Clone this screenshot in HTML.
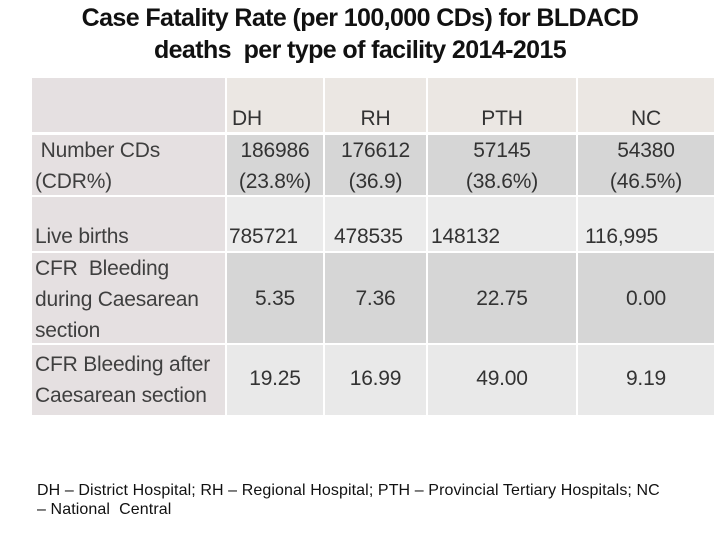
<!DOCTYPE html>
<html><head><meta charset="utf-8"><style>
body{margin:0;width:720px;height:540px;background:#fff;position:relative;overflow:hidden;font-family:"Liberation Sans",sans-serif;}
.t{position:absolute;left:0;width:720px;text-align:center;font-weight:bold;font-size:25px;color:#111;letter-spacing:-0.6px;line-height:30px;}
.c{position:absolute;box-sizing:border-box;font-size:21px;color:#333;letter-spacing:-0.2px;line-height:31px;white-space:nowrap;}
.l{color:#3f3f3f;padding-left:3px;}
.ctr{text-align:center;}
.fn{position:absolute;left:37px;top:481px;width:650px;font-size:16px;line-height:19px;color:#111;letter-spacing:0.1px;}
</style></head><body>
<div class="t" style="top:3px">Case Fatality Rate (per 100,000 CDs) for BLDACD</div>
<div class="t" style="top:35px">deaths&nbsp; per type of facility 2014-2015</div>
<div>
<div class="c" style="left:32px;top:78px;width:193px;height:54px;background:#e5e0e1"></div>
<div class="c" style="left:227px;top:78px;width:96px;height:54px;background:#ebe7e3;padding:25px 0 0 5px">DH</div>
<div class="c ctr" style="left:325px;top:78px;width:101px;height:54px;background:#ebe7e3;padding-top:25px">RH</div>
<div class="c ctr" style="left:428px;top:78px;width:148px;height:54px;background:#ebe7e3;padding-top:25px">PTH</div>
<div class="c ctr" style="left:578px;top:78px;width:136px;height:54px;background:#ebe7e3;padding-top:25px">NC</div>
<div class="c l" style="left:32px;top:135px;width:193px;height:60px;background:#e5e0e1">&nbsp;Number CDs<br>(CDR%)</div>
<div class="c ctr" style="left:227px;top:135px;width:96px;height:60px;background:#d6d6d6">186986<br>(23.8%)</div>
<div class="c ctr" style="left:325px;top:135px;width:101px;height:60px;background:#d6d6d6">176612<br>(36.9)</div>
<div class="c ctr" style="left:428px;top:135px;width:148px;height:60px;background:#d6d6d6">57145<br>(38.6%)</div>
<div class="c ctr" style="left:578px;top:135px;width:136px;height:60px;background:#d6d6d6">54380<br>(46.5%)</div>
<div class="c l" style="left:32px;top:197px;width:193px;height:54px;background:#e5e0e1;padding-top:24px">Live births</div>
<div class="c" style="left:227px;top:197px;width:96px;height:54px;background:#ebebeb;padding:24px 0 0 2px">785721</div>
<div class="c" style="left:325px;top:197px;width:101px;height:54px;background:#ebebeb;padding:24px 0 0 9px">478535</div>
<div class="c" style="left:428px;top:197px;width:148px;height:54px;background:#ebebeb;padding:24px 0 0 3px">148132</div>
<div class="c" style="left:578px;top:197px;width:136px;height:54px;background:#ebebeb;padding:24px 0 0 7px">116,995</div>
<div class="c l" style="left:32px;top:253px;width:193px;height:90px;background:#e5e0e1">CFR&nbsp; Bleeding<br>during Caesarean<br>section</div>
<div class="c ctr" style="left:227px;top:253px;width:96px;height:90px;background:#d6d6d6;padding-top:30px">5.35</div>
<div class="c ctr" style="left:325px;top:253px;width:101px;height:90px;background:#d6d6d6;padding-top:30px">7.36</div>
<div class="c ctr" style="left:428px;top:253px;width:148px;height:90px;background:#d6d6d6;padding-top:30px">22.75</div>
<div class="c ctr" style="left:578px;top:253px;width:136px;height:90px;background:#d6d6d6;padding-top:30px">0.00</div>
<div class="c l" style="left:32px;top:345px;width:193px;height:70px;background:#e5e0e1;padding-top:4px">CFR Bleeding after<br>Caesarean section</div>
<div class="c ctr" style="left:227px;top:345px;width:96px;height:70px;background:#e9e9e9;padding-top:18px">19.25</div>
<div class="c ctr" style="left:325px;top:345px;width:101px;height:70px;background:#e9e9e9;padding-top:18px">16.99</div>
<div class="c ctr" style="left:428px;top:345px;width:148px;height:70px;background:#e9e9e9;padding-top:18px">49.00</div>
<div class="c ctr" style="left:578px;top:345px;width:136px;height:70px;background:#e9e9e9;padding-top:18px">9.19</div>
</div>
<div class="fn">DH – District Hospital; RH – Regional Hospital; PTH – Provincial Tertiary Hospitals; NC<br>– National&nbsp; Central</div>
</body></html>
